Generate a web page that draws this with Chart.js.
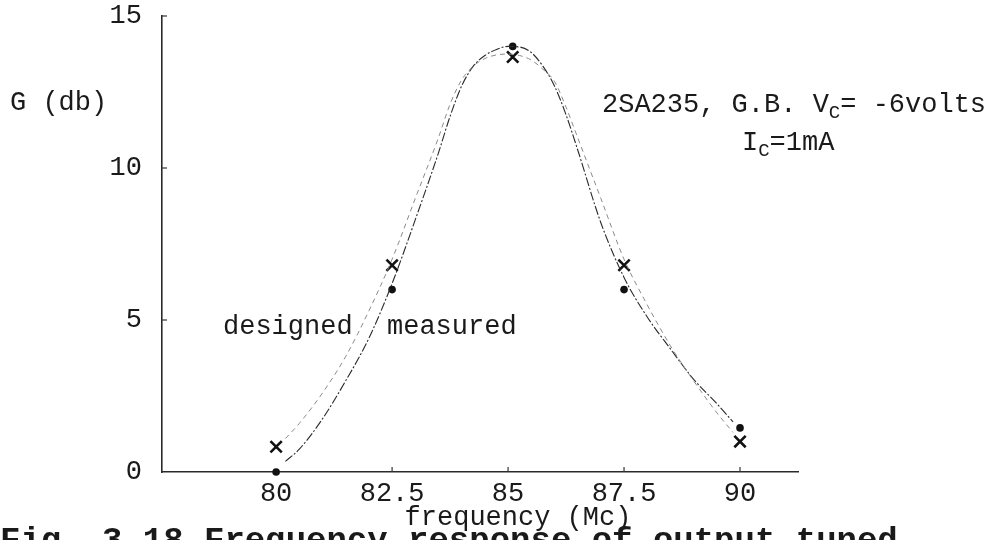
<!DOCTYPE html>
<html>
<head>
<meta charset="utf-8">
<script src="https://cdn.jsdelivr.net/npm/chart.js@4/dist/chart.umd.min.js"></script>
<style>
  html, body { margin: 0; padding: 0; background: #fff; }
  #wrap { width: 1003px; height: 540px; position: relative; }
</style>
</head>
<body>
<div id="wrap"><canvas id="c" width="1003" height="540"></canvas></div>
<script>
// ---- data ----
const freqTicks = [80, 82.5, 85, 87.5, 90];
const gainTicks = [0, 5, 10, 15];

const pointFreq = [80, 82.5, 85.1, 87.5, 90];
const measuredPoints = [0, 6.0, 14.0, 6.0, 1.45];
const designedPoints = [0.83, 6.8, 13.65, 6.8, 1.0];

const curveFreq = [80.2, 80.5, 81, 81.5, 82, 82.5, 83, 83.5, 83.75, 84, 84.25, 84.5, 84.75, 85, 85.25, 85.5, 85.75, 86, 86.25, 86.5, 87, 87.5, 88, 88.5, 89, 89.5, 89.85];
const measuredCurve = [0.35, 0.75, 1.75, 3.0, 4.4, 6.2, 8.3, 10.5, 11.7, 12.7, 13.35, 13.7, 13.9, 14.0, 13.98, 13.8, 13.35, 12.7, 11.75, 10.6, 8.2, 6.4, 5.1, 4.05, 3.05, 2.25, 1.65];
const designedCurve = [1.1, 1.6, 2.6, 3.8, 5.3, 7.0, 9.0, 11.0, 12.1, 12.9, 13.35, 13.6, 13.72, 13.75, 13.7, 13.55, 13.25, 12.85, 12.0, 11.0, 9.0, 7.0, 5.5, 4.15, 3.0, 1.95, 1.3];

const yTitle = 'G (db)';
const xTitle = 'frequency (Mc)';
const curveLabels = ['designed', 'measured'];
const caption = 'Fig. 3.18 Frequency response of output tuned';

const pairs = (xs, ys) => xs.map((x, i) => ({ x: x, y: ys[i] }));

const FONT = "'Liberation Mono', 'Courier New', monospace";
const INK = '#1a1a1a';

const textPlugin = {
  id: 'texts',
  afterDraw(chart) {
    const ctx = chart.ctx;
    const xs = chart.scales.x, ys = chart.scales.y;
    ctx.save();
    // inward tick marks
    ctx.strokeStyle = '#333';
    ctx.lineWidth = 1.2;
    gainTicks.forEach(v => {
      if (v === 0) return;
      const py = ys.getPixelForValue(v);
      ctx.beginPath(); ctx.moveTo(xs.left, py); ctx.lineTo(xs.left + 5, py); ctx.stroke();
    });
    freqTicks.forEach(v => {
      if (v === 80) return;
      const px = xs.getPixelForValue(v);
      ctx.beginPath(); ctx.moveTo(px, ys.bottom); ctx.lineTo(px, ys.bottom - 5); ctx.stroke();
    });

    ctx.fillStyle = INK;
    ctx.textBaseline = 'middle';
    ctx.textAlign = 'left';
    ctx.font = '27px ' + FONT;
    ctx.fillText(yTitle, 10, 103);
    ctx.fillText(curveLabels[0], 223, 327);
    ctx.fillText(curveLabels[1], 387, 327);

    // annotation with subscripts
    const drawSub = (parts, x, y) => {
      parts.forEach(p => {
        if (p.sub) {
          ctx.font = '19px ' + FONT;
          ctx.fillText(p.t, x, y + 8);
        } else {
          ctx.font = '27px ' + FONT;
          ctx.fillText(p.t, x, y);
        }
        x += ctx.measureText(p.t).width;
      });
    };
    drawSub([{t: '2SA235, G.B. V'}, {t: 'C', sub: true}, {t: '= -6volts'}], 602, 105);
    drawSub([{t: 'I'}, {t: 'C', sub: true}, {t: '=1mA'}], 742, 143);

    ctx.font = '27px ' + FONT;
    ctx.textAlign = 'center';
    ctx.fillText(xTitle, 518, 518);

    ctx.textAlign = 'left';
    ctx.textBaseline = 'alphabetic';
    ctx.font = 'bold 34px ' + FONT;
    ctx.fillText(caption, 0, 550);
    ctx.restore();
  }
};

new Chart(document.getElementById('c'), {
  type: 'scatter',
  data: {
    datasets: [
      {
        label: 'designed curve',
        data: pairs(curveFreq, designedCurve),
        showLine: true,
        borderColor: '#8a8a8a',
        borderWidth: 1,
        borderDash: [5, 4],
        pointRadius: 0,
        cubicInterpolationMode: 'monotone',
        clip: false
      },
      {
        label: 'measured curve',
        data: pairs(curveFreq, measuredCurve),
        showLine: true,
        borderColor: '#2a2a2a',
        borderWidth: 1.1,
        borderDash: [9, 2, 2, 2],
        pointRadius: 0,
        cubicInterpolationMode: 'monotone',
        clip: false
      },
      {
        label: 'designed',
        data: pairs(pointFreq, designedPoints),
        showLine: false,
        pointStyle: 'crossRot',
        pointRadius: 8,
        pointBorderWidth: 2.6,
        borderColor: '#111',
        backgroundColor: '#111',
        clip: false
      },
      {
        label: 'measured',
        data: pairs(pointFreq, measuredPoints),
        showLine: false,
        pointStyle: 'circle',
        pointRadius: 3.8,
        borderWidth: 0,
        backgroundColor: '#111',
        borderColor: '#111',
        clip: false
      }
    ]
  },
  options: {
    responsive: false,
    animation: false,
    layout: { padding: { left: 0, top: 16, right: 205, bottom: 0 } },
    plugins: { legend: { display: false }, tooltip: { enabled: false } },
    scales: {
      x: {
        type: 'linear',
        min: 77.54,
        max: 91.25,
        afterBuildTicks: s => { s.ticks = freqTicks.map(v => ({ value: v })); },
        afterFit: s => { s.height = 68; s.paddingLeft = 0; s.paddingRight = 0; },
        grid: { display: false, drawTicks: false },
        border: { display: true, color: '#2a2a2a', width: 1.6 },
        ticks: {
          color: INK,
          font: { family: FONT, size: 27 },
          padding: 6,
          maxRotation: 0,
          autoSkip: false,
          callback: v => String(v)
        }
      },
      y: {
        type: 'linear',
        min: 0,
        max: 15,
        afterBuildTicks: s => { s.ticks = gainTicks.map(v => ({ value: v })); },
        afterFit: s => { s.width = 162; s.paddingTop = 0; s.paddingBottom = 0; },
        grid: { display: false, drawTicks: false },
        border: { display: true, color: '#2a2a2a', width: 1.6 },
        ticks: {
          color: INK,
          font: { family: FONT, size: 27 },
          padding: 20,
          callback: v => String(v)
        }
      }
    }
  },
  plugins: [textPlugin]
});
</script>
</body>
</html>
